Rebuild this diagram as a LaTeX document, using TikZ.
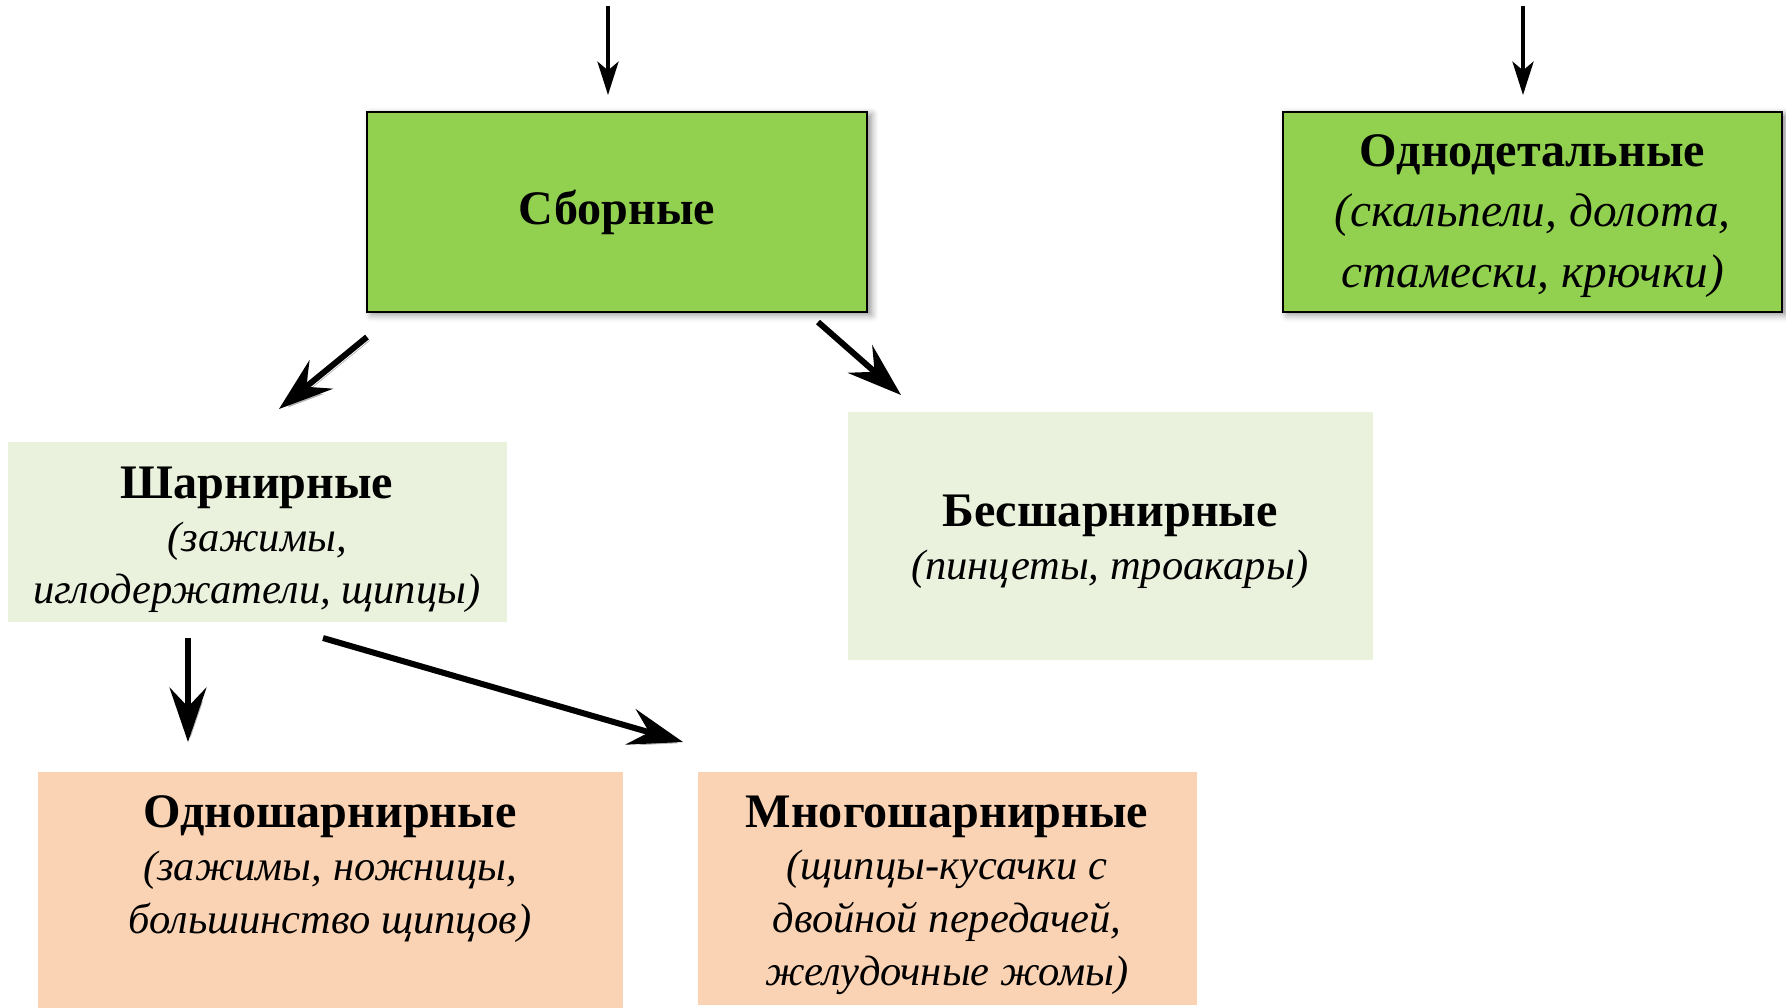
\documentclass[tikz,border=0pt]{standalone}
\usepackage{fontspec}
\setmainfont{Liberation Serif}
\usetikzlibrary{arrows.meta,shadows.blur}
\definecolor{grn}{HTML}{92D050}
\definecolor{lgrn}{HTML}{EAF1DD}
\definecolor{pch}{HTML}{FAD3B4}
\newcommand{\myitA}[1]{{\fontsize{26.9}{34.5}\selectfont\itshape #1}}
\newcommand{\myitB}[1]{{\fontsize{24.2}{30}\selectfont\itshape #1}}
\begin{document}
\begin{tikzpicture}[x=0.02cm,y=-0.02cm,
  gbox/.style={draw=black, line width=1.3pt, fill=grn, inner sep=0pt,
    blur shadow={shadow xshift=2.5pt, shadow yshift=-1.5pt, shadow blur radius=4pt, shadow opacity=45}},
  lbox/.style={fill=lgrn, inner sep=0pt},
  pbox/.style={fill=pch, inner sep=0pt},
  bigtxt/.style={align=center, font=\fontsize{27.4}{34.5}\selectfont},
  smtxt/.style={align=center, font=\fontsize{27.4}{30}\selectfont},
  shd/.style={preaction={draw=black!30, transform canvas={xshift=1.5pt,yshift=-2pt}}},
  toparr/.style={line width=2.2pt, -{Stealth[length=19pt,width=12pt,inset=5pt]}},
  arr/.style={line width=3.4pt, shd, -{Stealth[length=31pt,width=21pt,inset=11pt]}}
]
\useasboundingbox (0,0) rectangle (1786,1008);

% boxes
\node[gbox, minimum width=500*0.02cm, minimum height=200*0.02cm] (sb) at (617,212) {};
\node[gbox, minimum width=499*0.02cm, minimum height=200*0.02cm] (od) at (1532.5,212) {};
\node[lbox, minimum width=499*0.02cm, minimum height=180*0.02cm] (sh) at (257,532) {};
\node[lbox, minimum width=525*0.02cm, minimum height=248*0.02cm] (bs) at (1110.5,536) {};
\node[pbox, minimum width=585*0.02cm, minimum height=240*0.02cm] (os) at (330.5,892) {};
\node[pbox, minimum width=499*0.02cm, minimum height=233*0.02cm] (ms) at (947.5,888.5) {};

% texts
\node[bigtxt] (sbt) at (sb.center) {\textbf{Сборные}};
\node[bigtxt] (odt) at (1532.5,216) {\textbf{Однодетальные}\\\myitA{(скальпели, долота,}\\\myitA{стамески, крючки)}};
\node[smtxt] (sht) at (257,540) {\textbf{Шарнирные}\\\myitB{(зажимы,}\\\myitB{иглодержатели, щипцы)}};
\node[smtxt] (bst) at (1110,542) {\textbf{Бесшарнирные}\\\myitB{(пинцеты, троакары)}};
\node[smtxt] (ost) at (330,869) {\textbf{Одношарнирные}\\\myitB{(зажимы, ножницы,}\\\myitB{большинство щипцов)}};
\node[smtxt] (mst) at (947,895) {\textbf{Многошарнирные}\\\myitB{(щипцы-кусачки с}\\\myitB{двойной передачей,}\\\myitB{желудочные жомы)}};

% arrow end points
\coordinate (t1) at (608,6);
\coordinate (e1) at (608,95);
\coordinate (t2) at (1523,6);
\coordinate (e2) at (1523,95);
\coordinate (a1) at (367,337);
\coordinate (b1) at (279,409);
\coordinate (a2) at (818,322);
\coordinate (b2) at (901,395);
\coordinate (a3) at (188,638);
\coordinate (b3) at (188,742);
\coordinate (a4) at (323,638);
\coordinate (b4) at (683,742);

\draw[toparr] (t1) -- (e1);
\draw[toparr] (t2) -- (e2);
\draw[arr] (a1) -- (b1);
\draw[arr] (a2) -- (b2);
\draw[arr] (a3) -- (b3);
\draw[arr] (a4) -- (b4);
\end{tikzpicture}
\end{document}
